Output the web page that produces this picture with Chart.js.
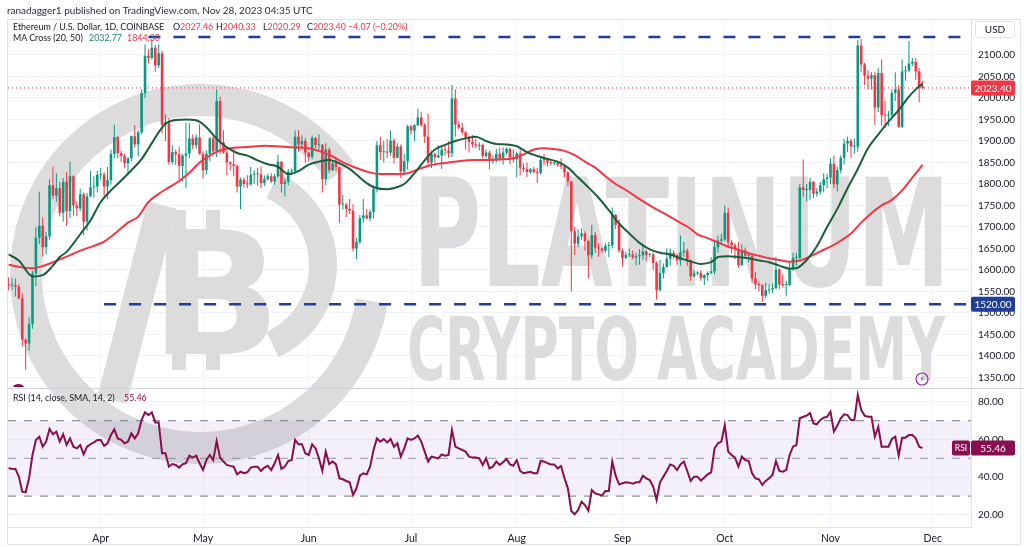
<!DOCTYPE html>
<html>
<head>
<meta charset="utf-8">
<title>ETH/USD 1D</title>
<script src="https://cdn.jsdelivr.net/npm/chart.js@4.4.1/dist/chart.umd.min.js"></script>
<style>
  html, body { margin: 0; padding: 0; background: #fff; }
  #box { position: relative; width: 1024px; height: 547px; overflow: hidden; }
  #chart { position: absolute; left: 0; top: 0; }
  .txt { position: absolute; white-space: nowrap; font-family: Lato, "Open Sans", sans-serif; font-size: 8.9px; color: #131722; line-height: 12px; }
  .red { color: #f23645; }
  .grn { color: #1e8a5f; }
  .rsi { color: #880e4f; }
</style>
</head>
<body>
<div id="box">
  <canvas id="chart" width="1024" height="547"></canvas>
  <div class="txt" style="left:7px; top:4px; font-size:10px; color:#2a2e39;">ranadagger1 published on TradingView.com, Nov 28, 2023 04:35 UTC</div>
  <div class="txt" style="left:13px; top:20.7px;">Ethereum / U.S. Dollar, 1D, COINBASE</div>
  <div class="txt" style="left:173px; top:20.7px;">O<span class="red">2027.46</span></div>
  <div class="txt" style="left:216px; top:20.7px;">H<span class="red">2040.33</span></div>
  <div class="txt" style="left:263px; top:20.7px;">L<span class="red">2020.29</span></div>
  <div class="txt" style="left:307px; top:20.7px;">C<span class="red">2023.40</span></div>
  <div class="txt red" style="left:348px; top:20.7px;">−4.07 (−0.20%)</div>
  <div class="txt" style="left:13px; top:32.3px;">MA Cross (20, 50)</div>
  <div class="txt grn" style="left:89px; top:32.3px;">2032.77</div>
  <div class="txt red" style="left:127px; top:32.3px;">1844.30</div>
  <div class="txt" style="left:13px; top:391.7px;">RSI (14, close, SMA, 14, 2)</div>
  <div class="txt rsi" style="left:124px; top:391.7px;">55.46</div>
</div>
<script>
// daily candles, 5 Mar 2023 (index 0) .. 28 Nov 2023 (index 268)
const firstOpen = 1567;
const closes = [
  1564,1565,1561,1534,1438,1429,1474,1592,1675,1703,
  1653,1678,1797,1773,1790,1733,1805,1737,1818,1750,
  1743,1776,1712,1771,1792,1794,1821,1822,1794,1809,
  1870,1909,1872,1865,1848,1860,1911,1892,1920,2011,
  2098,2093,2117,2076,2104,1938,1944,1851,1874,1869,
  1842,1866,1871,1906,1890,1908,1870,1832,1870,1906,
  1876,1993,1897,1873,1850,1846,1842,1794,1810,1800,
  1799,1821,1823,1822,1802,1811,1818,1806,1818,1852,
  1800,1805,1829,1830,1910,1892,1900,1873,1863,1907,
  1891,1891,1811,1880,1832,1848,1839,1752,1752,1742,
  1738,1650,1665,1720,1727,1720,1735,1788,1890,1874,
  1874,1873,1901,1861,1887,1829,1853,1934,1924,1937,
  1955,1937,1910,1850,1870,1862,1866,1880,1878,1872,
  1999,1938,1931,1920,1908,1898,1892,1889,1891,1865,
  1873,1853,1857,1870,1859,1873,1882,1862,1857,1871,
  1838,1835,1828,1834,1828,1826,1856,1855,1850,1849,
  1849,1845,1841,1827,1806,1690,1661,1678,1685,1667,
  1634,1681,1652,1650,1645,1656,1657,1728,1705,1645,
  1628,1635,1636,1629,1632,1634,1643,1635,1636,1616,
  1553,1593,1607,1626,1640,1634,1622,1641,1645,1623,
  1585,1592,1593,1581,1588,1593,1597,1653,1668,1671,
  1733,1664,1657,1648,1611,1646,1633,1633,1580,1567,
  1565,1540,1553,1555,1558,1601,1566,1565,1565,1602,
  1628,1628,1792,1786,1786,1805,1777,1782,1797,1811,
  1815,1847,1799,1832,1861,1894,1900,1887,1887,2122,
  2078,2052,2045,2053,1978,2058,1960,1959,1961,2012,
  2020,1933,2062,2064,2080,2084,2062,2027.46,2023.40
];
const highs = [
  1583,1581,1580,1567,1547,1440,1490,1597,1700,1782,
  1722,1688,1811,1840,1825,1805,1814,1827,1852,1820,
  1760,1789,1780,1779,1830,1818,1831,1837,1827,1840,
  1880,1938,1912,1877,1870,1862,1913,1937,1925,2020,
  2125,2114,2136,2123,2125,2110,1962,1953,1890,1880,
  1887,1870,1942,1942,1915,1915,1939,1875,1878,1910,
  1912,2020,2003,1925,1878,1853,1886,1846,1815,1815,
  1820,1840,1832,1838,1840,1820,1824,1825,1823,1868,
  1853,1812,1835,1836,1925,1925,1913,1907,1875,1913,
  1910,1915,1893,1895,1885,1853,1860,1840,1775,1757,
  1765,1753,1675,1728,1765,1742,1740,1797,1900,1910,
  1900,1905,1925,1906,1895,1892,1870,1938,1938,1939,
  1975,1968,1942,1964,1877,1873,1890,1890,1890,1900,
  2030,2020,1945,1943,1923,1913,1914,1905,1897,1894,
  1880,1877,1866,1882,1885,1885,1885,1885,1880,1875,
  1880,1848,1850,1837,1840,1838,1865,1870,1860,1854,
  1855,1853,1860,1843,1830,1807,1700,1695,1697,1690,
  1670,1705,1688,1662,1652,1662,1665,1745,1730,1718,
  1650,1642,1650,1645,1640,1648,1656,1647,1640,1640,
  1620,1623,1615,1650,1650,1646,1638,1680,1665,1650,
  1625,1600,1597,1600,1590,1597,1630,1670,1680,1684,
  1750,1745,1670,1662,1665,1660,1652,1640,1637,1595,
  1573,1567,1570,1567,1569,1630,1604,1590,1575,1620,
  1640,1640,1800,1857,1800,1815,1807,1790,1805,1825,
  1823,1860,1866,1840,1866,1905,1910,1905,1905,2135,
  2137,2082,2065,2060,2061,2070,2090,1995,1970,2020,
  2060,2030,2090,2075,2133,2093,2093,2070,2040.33
];
const lows = [
  1553,1554,1538,1531,1422,1368,1412,1463,1562,1660,
  1632,1636,1670,1765,1758,1725,1712,1703,1720,1726,
  1725,1737,1680,1691,1770,1768,1780,1810,1772,1765,
  1798,1860,1860,1851,1838,1821,1853,1884,1864,1915,
  2000,2080,2089,2060,2070,1918,1900,1845,1846,1844,
  1810,1805,1790,1860,1880,1882,1868,1813,1822,1853,
  1870,1862,1870,1870,1820,1832,1818,1780,1742,1792,
  1790,1796,1800,1795,1790,1795,1808,1802,1798,1815,
  1780,1771,1797,1820,1825,1875,1880,1850,1852,1858,
  1883,1880,1780,1797,1825,1830,1830,1710,1740,1723,
  1730,1643,1625,1660,1710,1718,1713,1720,1780,1856,
  1850,1860,1865,1848,1860,1814,1825,1833,1915,1900,
  1935,1933,1896,1842,1837,1850,1860,1835,1866,1861,
  1862,1910,1927,1915,1880,1873,1885,1883,1878,1860,
  1860,1834,1847,1850,1855,1845,1869,1845,1850,1815,
  1820,1828,1816,1823,1825,1802,1822,1843,1840,1843,
  1844,1840,1835,1816,1795,1550,1635,1653,1670,1645,
  1580,1627,1640,1630,1640,1640,1630,1650,1695,1640,
  1608,1625,1630,1625,1611,1612,1624,1620,1630,1600,
  1531,1550,1580,1605,1610,1625,1612,1610,1630,1610,
  1575,1583,1588,1575,1565,1575,1590,1590,1640,1661,
  1667,1654,1638,1625,1605,1610,1628,1618,1570,1555,
  1550,1525,1535,1545,1547,1555,1555,1560,1540,1563,
  1598,1610,1625,1770,1760,1763,1767,1770,1775,1781,
  1790,1800,1790,1783,1825,1845,1875,1860,1870,1875,
  2060,2030,2020,2020,1938,1967,1935,1930,1935,1955,
  1993,1930,1930,2040,2060,2074,2042,1990,2020.29
];
const rsi = [
  44.7,44.5,44.4,40.3,32.3,32.0,39.4,51.8,59.8,61.5,
  56.2,58.9,65.6,62.8,64.2,58.9,62.8,57.1,60.6,56.2,
  55.3,57.1,52.1,56.2,57.5,58.5,59.8,59.8,56.7,58.0,
  62.4,65.4,60.6,59.8,58.0,58.9,63.3,60.6,63.3,70.4,
  74.4,73.0,74.4,69.1,69.1,52.7,52.7,45.6,47.0,46.5,
  45.1,46.8,47.4,51.4,50.4,51.4,47.4,43.8,49.1,51.8,
  49.1,59.2,50.4,48.3,46.5,46.0,45.6,41.5,42.9,42.1,
  42.6,45.1,45.6,45.6,43.3,45.1,46.1,43.8,47.4,51.8,
  44.4,45.6,48.6,49.1,59.8,57.5,57.5,52.7,51.8,57.5,
  55.3,50.0,43.3,53.6,47.0,48.3,46.8,39.4,38.9,38.0,
  37.3,30.6,34.1,40.8,42.1,41.5,45.6,54.5,60.6,58.9,
  60.3,58.5,60.3,56.2,58.0,50.9,55.3,60.6,59.8,60.6,
  62.1,58.9,53.6,48.3,50.9,50.5,50.0,52.1,51.4,51.8,
  65.1,56.2,55.3,54.5,53.6,50.9,50.4,50.4,50.0,46.5,
  50.0,44.7,45.6,48.3,46.5,48.0,49.7,46.8,46.1,49.1,
  43.3,42.1,42.5,42.9,42.1,42.1,48.6,48.3,47.5,46.8,
  46.8,44.7,45.9,39.4,34.1,22.1,20.3,22.6,27.0,25.2,
  22.2,33.2,31.4,30.9,30.2,32.7,32.7,48.3,40.8,36.2,
  36.8,37.3,37.1,36.6,37.3,37.3,40.8,39.4,38.5,35.0,
  27.9,37.3,40.3,43.3,46.8,46.1,43.8,46.8,48.3,43.3,
  38.0,40.3,40.3,38.2,39.8,41.5,42.6,55.3,58.0,58.9,
  67.7,53.6,51.8,50.4,45.6,50.9,49.1,48.6,42.1,39.4,
  38.9,35.9,38.0,39.4,41.2,48.6,43.3,42.9,43.8,51.8,
  56.2,57.0,71.3,72.1,72.7,74.0,68.6,68.1,70.4,71.6,
  72.1,74.8,64.2,67.4,71.3,73.4,73.0,70.4,70.4,83.7,
  75.7,72.7,72.1,72.1,61.5,66.8,56.2,56.2,56.2,60.3,
  61.5,51.4,61.0,61.0,62.4,62.4,60.6,56.2,55.46
];
// moving averages: [day index, value]
const ma20 = [
  [0,1636],[3,1622],[7,1585],[10,1588],[13,1610],[15,1630],[17,1642],[21,1683],[24,1715],[27,1758],
  [30,1785],[33,1808],[36,1832],[39,1858],[42,1895],[44,1920],[46,1940],[49,1949],[52,1950],[55,1948],
  [58,1932],[61,1905],[64,1885],[67,1872],[70,1866],[73,1855],[76,1846],[79,1840],[82,1823],[85,1830],
  [88,1845],[91,1852],[94,1856],[97,1848],[100,1835],[102,1822],[105,1802],[108,1790],[111,1788],[114,1793],
  [116,1800],[119,1825],[122,1855],[125,1880],[128,1891],[131,1900],[134,1906],[137,1910],[140,1900],[143,1893],
  [146,1892],[149,1888],[152,1874],[155,1865],[158,1858],[161,1852],[164,1838],[167,1815],[170,1792],[173,1768],
  [176,1739],[179,1708],[182,1685],[185,1663],[188,1648],[191,1640],[194,1636],[197,1627],[200,1620],[203,1614],
  [206,1618],[208,1630],[211,1632],[214,1630],[217,1627],[220,1622],[223,1618],[226,1610],[229,1603],[231,1604],
  [234,1623],[237,1655],[240,1700],[243,1742],[246,1790],[249,1835],[252,1883],[255,1915],[258,1945],[261,1972],
  [264,2003],[266,2020],[268,2032.77]
];
const ma50 = [
  [0,1612],[4,1606],[7,1604],[10,1609],[13,1618],[17,1631],[21,1645],[25,1656],[28,1666],[32,1690],
  [35,1710],[38,1724],[41,1758],[44,1777],[47,1792],[50,1807],[53,1826],[56,1850],[59,1866],[62,1878],
  [66,1884],[70,1886],[75,1889],[80,1887],[84,1885],[88,1883],[92,1874],[95,1864],[98,1850],[101,1840],
  [105,1829],[109,1823],[113,1823],[117,1825],[120,1834],[124,1844],[128,1849],[132,1853],[136,1856],[140,1856],
  [144,1857],[148,1860],[151,1869],[154,1880],[157,1883],[160,1881],[163,1877],[166,1867],[169,1852],[172,1838],
  [175,1818],[178,1800],[181,1786],[184,1770],[187,1755],[190,1741],[193,1728],[196,1714],[199,1701],[202,1683],
  [205,1674],[208,1664],[211,1654],[214,1647],[217,1639],[220,1633],[223,1627],[226,1623],[229,1619],[232,1622],
  [235,1631],[238,1643],[241,1654],[244,1668],[247,1685],[250,1710],[253,1732],[256,1750],[259,1763],[262,1785],
  [265,1815],[268,1844.3]
];
// horizontal levels drawn on the chart and the day they start from
const levelPrices = [2142, 1520];
const levelStarts = [41, 28];
const monthTicks = [27, 57, 88, 118, 149, 180, 210, 241, 271];
const monthNames = ['Apr', 'May', 'Jun', 'Jul', 'Aug', 'Sep', 'Oct', 'Nov', 'Dec'];
const priceTicks = [1350,1400,1450,1500,1550,1600,1650,1700,1750,1800,1850,1900,1950,2000,2050,2100];
const rsiTicks = [20, 40, 60, 80];
const rsiBands = [70, 50, 30];

const FONT = 'Lato, "Open Sans", sans-serif';
const GREEN = '#089981', RED = '#f23645', BLUE = '#1f3d99', PLUM = '#880e4f';
const X_MIN = -0.18, X_MAX = 282.2;

Chart.defaults.font.family = FONT;

const last = closes.length - 1;
const opens = closes.map((c, i) => (i === 0 ? firstOpen : closes[i - 1]));
const colors = closes.map((c, i) => (c >= opens[i] ? GREEN : RED));
const span = (v, from) => [{ x: from, y: v }, { x: X_MAX, y: v }];
const pts = (arr) => arr.map((p) => ({ x: p[0], y: p[1] }));

function badge(ctx, x, py, w, text, bg, size) {
  ctx.fillStyle = bg;
  ctx.beginPath();
  ctx.roundRect(x, py - 7.5, w, 15, 2);
  ctx.fill();
  ctx.fillStyle = '#fff';
  ctx.font = size + 'px ' + FONT;
  ctx.textAlign = 'center';
  ctx.textBaseline = 'middle';
  ctx.fillText(text, x + w / 2, py + 0.5);
}

function drawWatermark(ctx) {
  ctx.fillStyle = '#dcdcdc';
  ctx.strokeStyle = '#dcdcdc';
  // ring of the logo
  ctx.lineWidth = 32;
  ctx.beginPath();
  ctx.arc(200, 274, 174, Math.PI * 0.05, Math.PI * 1.8);
  ctx.stroke();
  ctx.lineWidth = 28;
  ctx.beginPath();
  ctx.arc(235, 265, 88, -Math.PI * 0.36, Math.PI * 0.36);
  ctx.stroke();
  ctx.lineWidth = 30;
  ctx.beginPath();
  ctx.moveTo(162, 205);
  ctx.lineTo(112, 400);
  ctx.stroke();
  // bitcoin B
  ctx.font = 'bold 172px "DejaVu Sans"';
  ctx.textAlign = 'left';
  ctx.textBaseline = 'alphabetic';
  ctx.fillText('B', 150, 354);
  ctx.fillRect(172, 210, 14, 24);
  ctx.fillRect(206, 210, 14, 24);
  ctx.fillRect(172, 350, 14, 20);
  ctx.fillRect(206, 350, 14, 20);
  // academy name
  const word = (text, size, x, base, width) => {
    ctx.font = 'bold ' + size + 'px "DejaVu Sans"';
    const w = ctx.measureText(text).width;
    ctx.save();
    ctx.translate(x, base);
    ctx.scale(width / w, 1);
    ctx.fillText(text, 0, 0);
    ctx.restore();
  };
  word('PLATINUM', 150, 413, 286, 537);
  word('CRYPTO ACADEMY', 88, 407, 380, 538);
}

const decor = {
  id: 'decor',
  beforeDatasetsDraw(chart) {
    const { ctx, chartArea } = chart;
    ctx.save();
    ctx.beginPath();
    ctx.rect(chartArea.left, chartArea.top, chartArea.right - chartArea.left, chartArea.bottom - chartArea.top);
    ctx.clip();
    drawWatermark(ctx);
    ctx.restore();
  },
  afterDraw(chart) {
    const { ctx, chartArea } = chart;
    const y = chart.scales.y, yr = chart.scales.yr;
    ctx.save();
    ctx.strokeStyle = '#d1d4dc';
    ctx.lineWidth = 1;
    ctx.beginPath();
    ctx.moveTo(7, Math.round(y.bottom) + 0.5);
    ctx.lineTo(1024, Math.round(y.bottom) + 0.5);
    ctx.stroke();
    ctx.strokeStyle = '#e0e3eb';
    ctx.strokeRect(7.5, 19.5, 1013, 525);
    // pane handle
    ctx.fillStyle = PLUM;
    ctx.beginPath();
    ctx.ellipse(18.5, y.bottom - 1, 5.5, 3, 0, Math.PI, 0);
    ctx.fill();
    // price scale badges
    badge(ctx, chartArea.right, y.getPixelForValue(closes[last]), 44, closes[last].toFixed(2), RED, 10);
    badge(ctx, chartArea.right, y.getPixelForValue(levelPrices[1]), 44, levelPrices[1].toFixed(2), BLUE, 10);
    const ry = yr.getPixelForValue(rsi[last]);
    badge(ctx, chartArea.right, ry, 44, rsi[last].toFixed(2), PLUM, 10);
    badge(ctx, chartArea.right - 19, ry, 18, 'RSI', PLUM, 8.5);
    // currency box
    ctx.fillStyle = '#fff';
    ctx.strokeStyle = '#e0e3eb';
    ctx.beginPath();
    ctx.roundRect(975.5, 21.5, 39, 16, 3);
    ctx.fill();
    ctx.stroke();
    ctx.fillStyle = '#131722';
    ctx.font = '10px ' + FONT;
    ctx.textAlign = 'center';
    ctx.textBaseline = 'middle';
    ctx.fillText('USD', 995, 30);
    // alert icon
    ctx.strokeStyle = '#9c27b0';
    ctx.lineWidth = 1.2;
    ctx.beginPath();
    ctx.arc(922, 379, 6, 0, Math.PI * 2);
    ctx.stroke();
    ctx.fillStyle = '#9c27b0';
    ctx.font = '8px "DejaVu Sans"';
    ctx.fillText('⚡', 922, 379.5);
    ctx.restore();
  }
};

const priceAxis = (weight, min, max, ticks) => ({
  position: 'right', stack: 'panes', stackWeight: weight, min: min, max: max,
  afterBuildTicks: (s) => { s.ticks = ticks.map((v) => ({ value: v })); },
  afterFit: (s) => { s.width = 53; },
  ticks: { autoSkip: false, padding: 7, color: '#131722', font: { size: 10 }, callback: (v) => v.toFixed(2) },
  grid: { color: '#f0f3fa', drawTicks: false },
  border: { display: true, color: '#e0e3eb' }
});

new Chart(document.getElementById('chart'), {
  type: 'bar',
  data: {
    datasets: [
      {
        label: 'wick',
        data: lows.map((l, i) => ({ x: i, y: [l, highs[i]] })),
        backgroundColor: colors,
        barThickness: 1,
        inflateAmount: 0,
        grouped: false,
        order: 10
      },
      {
        label: 'body',
        data: closes.map((c, i) => ({ x: i, y: [opens[i], c] })),
        backgroundColor: colors,
        barThickness: 2.6,
        inflateAmount: 0,
        minBarLength: 1,
        grouped: false,
        order: 9
      },
      {
        type: 'line', label: 'last', data: span(closes[last], X_MIN),
        borderColor: RED, borderWidth: 1, borderDash: [1, 3], pointRadius: 0, order: 11
      },
      {
        type: 'line', label: 'MA50', data: pts(ma50),
        borderColor: RED, borderWidth: 2, pointRadius: 0, cubicInterpolationMode: 'monotone', order: 6
      },
      {
        type: 'line', label: 'MA20', data: pts(ma20),
        borderColor: '#1b5e3b', borderWidth: 2, pointRadius: 0, cubicInterpolationMode: 'monotone', order: 5
      },
      {
        type: 'line', label: 'resistance', data: span(levelPrices[0], levelStarts[0]),
        borderColor: BLUE, borderWidth: 2.5, borderDash: [12, 13], pointRadius: 0, order: 4
      },
      {
        type: 'line', label: 'support', data: span(levelPrices[1], levelStarts[1]),
        borderColor: BLUE, borderWidth: 2.5, borderDash: [12, 13], pointRadius: 0, order: 4
      },
      {
        type: 'line', label: 'rsi70', yAxisID: 'yr', data: span(rsiBands[0], X_MIN),
        borderColor: 'rgba(120,123,134,0.8)', borderWidth: 1.2, borderDash: [8, 8], pointRadius: 0, order: 8
      },
      {
        type: 'line', label: 'rsi30', yAxisID: 'yr', data: span(rsiBands[2], X_MIN),
        borderColor: 'rgba(120,123,134,0.8)', borderWidth: 1.2, borderDash: [8, 8], pointRadius: 0,
        fill: '-1', backgroundColor: 'rgba(126,87,194,0.09)', order: 8
      },
      {
        type: 'line', label: 'rsi50', yAxisID: 'yr', data: span(rsiBands[1], X_MIN),
        borderColor: 'rgba(120,123,134,0.6)', borderWidth: 1.2, borderDash: [8, 8], pointRadius: 0, order: 8
      },
      {
        type: 'line', label: 'RSI', yAxisID: 'yr', data: rsi.map((v, i) => ({ x: i, y: v })),
        borderColor: PLUM, borderWidth: 2, pointRadius: 0, order: 1
      }
    ]
  },
  options: {
    responsive: false,
    animation: false,
    events: [],
    layout: { padding: { left: 8, top: 20, right: 0, bottom: 0 } },
    plugins: { legend: { display: false }, tooltip: { enabled: false } },
    scales: {
      x: {
        type: 'linear', min: X_MIN, max: X_MAX, offset: false,
        afterBuildTicks: (s) => { s.ticks = monthTicks.map((v) => ({ value: v })); },
        afterFit: (s) => { s.height = 20; },
        ticks: {
          autoSkip: false, maxRotation: 0, padding: 5, color: '#131722', font: { size: 10.5 },
          callback: (v, i) => monthNames[i]
        },
        grid: { color: '#f0f3fa', drawTicks: false, offset: false },
        border: { display: true, color: '#e0e3eb' }
      },
      y: priceAxis(368, 1325.4, 2181.4, priceTicks),
      yr: priceAxis(139, 13.55, 87.37, rsiTicks)
    }
  },
  plugins: [decor]
});
</script>
</body>
</html>
